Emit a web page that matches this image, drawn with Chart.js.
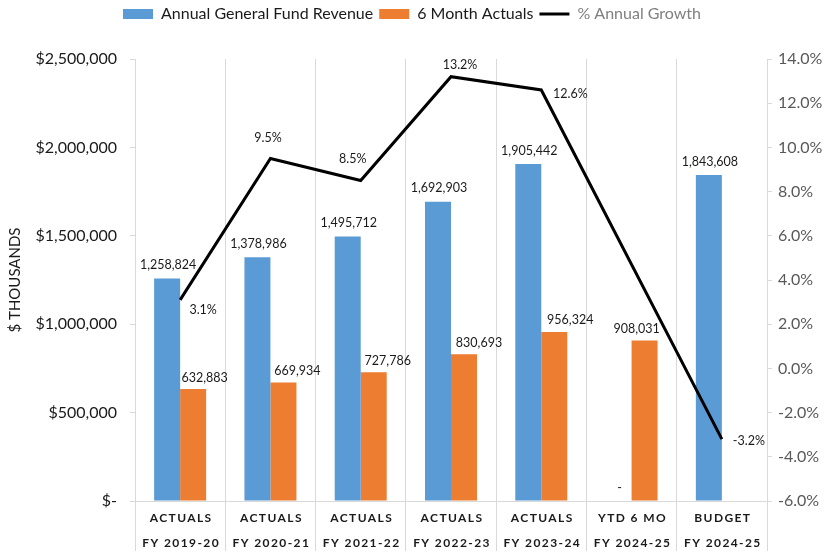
<!DOCTYPE html>
<html>
<head>
<meta charset="utf-8">
<script src="https://cdn.jsdelivr.net/npm/chart.js@4.4.1/dist/chart.umd.min.js"></script>
<style>
html,body{margin:0;padding:0;background:#fff;}
canvas{display:block;}
</style>
</head>
<body>
<canvas id="c" width="824" height="555"></canvas>
<script>
// ---------- data ----------
const categoryTop = ['ACTUALS','ACTUALS','ACTUALS','ACTUALS','ACTUALS','YTD 6 MO','BUDGET'];
const fiscalYears = ['FY 2019-20','FY 2020-21','FY 2021-22','FY 2022-23','FY 2023-24','FY 2024-25','FY 2024-25'];
const annualRevenue = [1258824,1378986,1495712,1692903,1905442,0,1843608];
const sixMonthActuals = [632883,669934,727786,830693,956324,908031,null];
const annualGrowthPct = [3.1,9.5,8.5,13.2,12.6,null,-3.2];
const revenueAxis = {min:0, max:2500000, step:500000};
const growthAxis = {min:-6, max:14, step:2};

// ---------- label placement (styling, not data) ----------
const FONT = 'Lato, "Open Sans", sans-serif';
const annualLabelDx = [1,1,1,1,1,1,1];
const annualLabelDy = -13.5;
const sixLabelDx = [11.5,14,14,15,16,-8,0];
const sixLabelDy = -11.5;
const growthLabelOffset = [[23,10],[-2.5,-20],[-8,-22],[9,-12],[29,4],null,[27,2]];

const fmtMoney = v => v === 0 ? '-' : v.toLocaleString('en-US');

const dataLabels = {
  id: 'dataLabels',
  afterDatasetsDraw(chart) {
    const ctx = chart.ctx;
    ctx.save();
    ctx.font = '12.5px ' + FONT;
    ctx.fillStyle = '#1a1a1a';
    ctx.textAlign = 'center';
    ctx.textBaseline = 'middle';
    chart.data.datasets.forEach((ds, di) => {
      const meta = chart.getDatasetMeta(di);
      meta.data.forEach((el, i) => {
        const v = ds.data[i];
        if (v === null || v === undefined) return;
        if (ds.type === 'line') {
          const off = growthLabelOffset[i];
          if (!off) return;
          ctx.fillText(v.toFixed(1) + '%', el.x + off[0], el.y + off[1]);
        } else if (di === 0) {
          ctx.fillText(fmtMoney(v), el.x + annualLabelDx[i], el.y + annualLabelDy);
        } else {
          ctx.fillText(fmtMoney(v), el.x + sixLabelDx[i], el.y + sixLabelDy);
        }
      });
    });
    ctx.restore();
  }
};

const categoryLabels = {
  id: 'categoryLabels',
  afterDraw(chart) {
    const ctx = chart.ctx;
    const xs = chart.scales.x;
    ctx.save();
    ctx.font = 'bold 12px ' + FONT;
    ctx.fillStyle = '#1a1a1a';
    ctx.textAlign = 'center';
    ctx.textBaseline = 'middle';
    try { ctx.letterSpacing = '1.4px'; } catch(e) {}
    categoryTop.forEach((t, i) => {
      const x = xs.getPixelForValue(i) + 1;
      ctx.fillText(t, x, 518);
      ctx.fillText(fiscalYears[i], x, 543);
    });
    ctx.restore();
  }
};

const legendSize = {
  id: 'legendSize',
  beforeLayout(chart) {
    const lg = chart.legend;
    if (lg && !lg._patched) {
      const orig = lg.fit;
      lg.fit = function() { orig.call(this); this.height = 59; };
      lg._patched = true;
    }
  }
};

new Chart(document.getElementById('c'), {
  data: {
    labels: categoryTop.map((t, i) => [t, fiscalYears[i]]),
    datasets: [
      {type:'bar', label:'Annual General Fund Revenue', data: annualRevenue, backgroundColor:'#5B9BD5', yAxisID:'y', order:1},
      {type:'bar', label:'6 Month Actuals', data: sixMonthActuals, backgroundColor:'#ED7D31', yAxisID:'y', order:1},
      {type:'line', label:'% Annual Growth', data: annualGrowthPct, borderColor:'#000000', backgroundColor:'#000000',
       borderWidth:3, pointRadius:0, pointHoverRadius:0, spanGaps:true, tension:0, yAxisID:'y1', order:0,
       borderJoinStyle:'miter'}
    ]
  },
  options: {
    responsive:false,
    animation:false,
    devicePixelRatio:1,
    layout:{padding:{top:0,left:0,right:0,bottom:0}},
    datasets:{bar:{barPercentage:1, categoryPercentage:0.576}},
    plugins:{
      tooltip:{enabled:false},
      legend:{
        position:'top',
        labels:{
          font:{family:FONT, size:16},
          usePointStyle:true,
          pointStyleWidth:30,
          boxHeight:10,
          padding:6,
          sort:(a, b) => a.datasetIndex - b.datasetIndex,
          generateLabels(chart) {
            const items = Chart.defaults.plugins.legend.labels.generateLabels(chart);
            return items.map(it => {
              if (chart.data.datasets[it.datasetIndex].type === 'line') {
                it.pointStyle = 'line'; it.lineWidth = 3; it.strokeStyle = '#000'; it.fontColor = '#7f7f7f';
              } else {
                it.pointStyle = 'rect'; it.lineWidth = 0; it.fontColor = '#1a1a1a';
              }
              return it;
            });
          }
        }
      }
    },
    scales:{
      x:{
        offset:true,
        grid:{offset:true, color:'#d9d9d9', lineWidth:1, drawTicks:true, tickLength:50},
        border:{display:true, color:'#d9d9d9'},
        ticks:{display:false},
        afterFit(s){ s.height = 54; }
      },
      y:{
        position:'left',
        min:revenueAxis.min, max:revenueAxis.max,
        ticks:{stepSize:revenueAxis.step, padding:13, color:'#1a1a1a', font:{family:FONT, size:16},
          callback:v => v === 0 ? '$-' : '$' + v.toLocaleString('en-US')},
        grid:{drawOnChartArea:false, drawTicks:true, tickLength:5, color:'#d9d9d9'},
        border:{display:true, color:'#d9d9d9'},
        title:{display:true, text:'$ THOUSANDS', color:'#1a1a1a', font:{family:FONT, size:15}, padding:{top:6,bottom:0}},
        afterFit(s){ s.width = 135; }
      },
      y1:{
        position:'right',
        min:growthAxis.min, max:growthAxis.max,
        ticks:{stepSize:growthAxis.step, padding:6, color:'#595959', font:{family:FONT, size:16},
          callback:v => v.toFixed(1) + '%'},
        grid:{drawOnChartArea:false, drawTicks:true, tickLength:5, color:'#d9d9d9'},
        border:{display:true, color:'#d9d9d9'},
        afterFit(s){ s.width = 57; }
      }
    }
  },
  plugins:[legendSize, dataLabels, categoryLabels]
});
</script>
</body>
</html>
